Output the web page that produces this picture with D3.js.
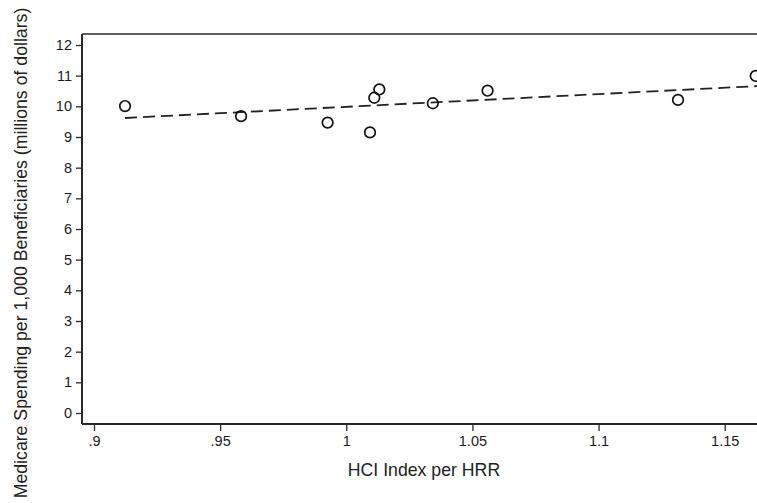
<!DOCTYPE html>
<html>
<head>
<meta charset="utf-8">
<script src="https://cdn.jsdelivr.net/npm/d3@7"></script>
<style>
  body { margin: 0; background: #fff; }
  svg { display: block; font-family: "Liberation Sans", Arial, Helvetica, sans-serif; }
</style>
</head>
<body>
<svg id="chart" width="757" height="503"></svg>
<script>
// observed HRR points: HCI index vs spending (millions of dollars)
const hciIndex = [0.9123, 0.9583, 0.9926, 1.0094, 1.0111, 1.0131, 1.0343, 1.056, 1.1315, 1.1623];
const spending = [10.01, 9.68, 9.47, 9.15, 10.28, 10.55, 10.10, 10.51, 10.21, 10.99];

// fitted line endpoints
const fitX = [0.9123, 1.17];
const fitY = [9.62, 10.69];

const xTicks = [0.9, 0.95, 1, 1.05, 1.1, 1.15];
const xTickLabels = ['.9', '.95', '1', '1.05', '1.1', '1.15'];
const yTicks = [0, 1, 2, 3, 4, 5, 6, 7, 8, 9, 10, 11, 12];

const svg = d3.select('#chart');
const W = 757;
const plotLeft = 82, plotTop = 34, plotBottom = 424;

const x = d3.scaleLinear().domain([0.9, 1.15]).range([94, 724.7]);
const y = d3.scaleLinear().domain([0, 12]).range([413, 45]);

const ink = '#2a2a2a';

// frame: top border, left and bottom axis lines
svg.append('line')
    .attr('x1', plotLeft).attr('x2', W + 5)
    .attr('y1', plotTop).attr('y2', plotTop)
    .attr('stroke', ink).attr('stroke-width', 1.5);

const xAxis = svg.append('g')
    .attr('transform', `translate(0,${plotBottom})`)
    .call(d3.axisBottom(x)
        .tickValues(xTicks)
        .tickFormat((d, i) => xTickLabels[i])
        .tickSize(7)
        .tickPadding(5));
xAxis.select('.domain').attr('d', `M${plotLeft},0H${W + 5}`);

const yAxis = svg.append('g')
    .attr('transform', `translate(${plotLeft},0)`)
    .call(d3.axisLeft(y)
        .tickValues(yTicks)
        .tickSize(6)
        .tickPadding(4));
yAxis.select('.domain').attr('d', `M0,${plotTop}V${plotBottom}`);

svg.selectAll('.domain').attr('stroke', ink).attr('stroke-width', 2);
svg.selectAll('.tick line').attr('stroke', ink).attr('stroke-width', 1.3);
svg.selectAll('.tick text')
    .attr('fill', '#1a1a1a')
    .style('font-size', '14.5px');

// fitted dashed line
const fitPts = fitX.map((d, i) => [d, fitY[i]]);
svg.append('path')
    .datum(fitPts)
    .attr('d', d3.line().x(d => x(d[0])).y(d => y(d[1])))
    .attr('fill', 'none')
    .attr('stroke', '#222')
    .attr('stroke-width', 1.8)
    .attr('stroke-dasharray', '12,6');

// points
svg.append('g')
    .selectAll('circle')
    .data(hciIndex)
    .join('circle')
    .attr('cx', d => x(d))
    .attr('cy', (d, i) => y(spending[i]))
    .attr('r', 5.3)
    .attr('fill', 'none')
    .attr('stroke', '#111')
    .attr('stroke-width', 1.7);

// axis titles
svg.append('text')
    .attr('x', 424)
    .attr('y', 476)
    .attr('text-anchor', 'middle')
    .attr('fill', '#222')
    .style('font-size', '17.7px')
    .text('HCI Index per HRR');

svg.append('text')
    .attr('transform', 'translate(27,253) rotate(-90)')
    .attr('text-anchor', 'middle')
    .attr('fill', '#222')
    .style('font-size', '17.7px')
    .text('Medicare Spending per 1,000 Beneficiaries (millions of dollars)');
</script>
</body>
</html>
